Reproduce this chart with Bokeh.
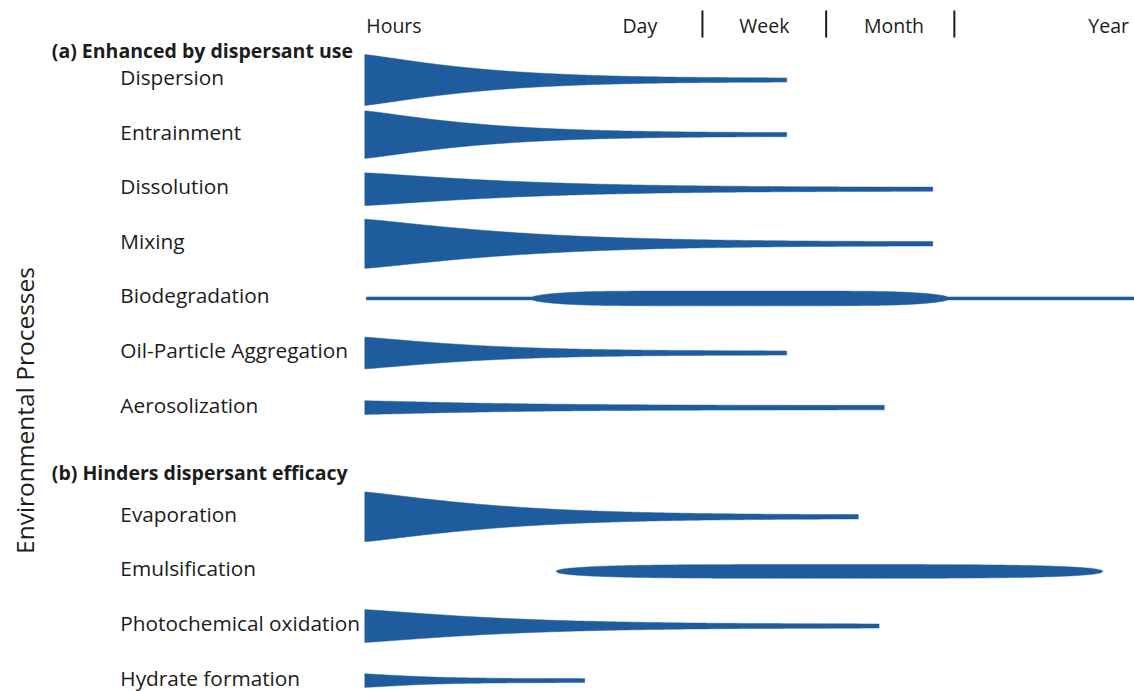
import numpy as np
from bokeh.plotting import figure
from bokeh.models import Range1d, ColumnDataSource
from bokeh.core.properties import value
from bokeh.embed import file_html
from bokeh.resources import INLINE

# ---------------- data ----------------
processes = ["Dispersion", "Entrainment", "Dissolution", "Mixing", "Biodegradation",
             "Oil-Particle Aggregation", "Aerosolization",
             "Evaporation", "Emulsification", "Photochemical oxidation", "Hydrate formation"]
row = [0, 1, 2, 3, 4, 5, 6, 8, 9, 10, 11]
form = ["decay", "decay", "decay", "decay", "bulge", "decay", "decay",
        "decay", "lens", "decay", "decay"]
# relative time position (0 = hours ... ~100 = year)
onset = [0, 0, 0, 0, 0.2, 0, 0, 0, 25.7, 0, 0]
finish = [56.6, 56.6, 76.2, 76.2, 105.0, 56.6, 69.7, 66.2, 99.0, 69.0, 29.5]
peak_from = [None, None, None, None, 22.5, None, None, None, None, None, None]
peak_to = [None, None, None, None, 78.2, None, None, None, None, None, None]
# relative intensity (thickness, fraction of a row)
strength = [0.93, 0.87, 0.60, 0.90, 0.27, 0.58, 0.25, 0.91, 0.25, 0.60, 0.25]
residual = [0.065, 0.065, 0.07, 0.07, 0.055, 0.07, 0.08, 0.07, 0.0, 0.07, 0.07]

groups = ["(a) Enhanced by dispersant use", "(b) Hinders dispersant efficacy"]
group_row = [-0.4844, 7.2418]

time_labels = ["Hours", "Day", "Week", "Month", "Year"]
time_pos = [0.2, 36.9, 53.6, 71.0, 99.8]
time_align = ["left", "center", "center", "center", "center"]
time_breaks = [45.3, 61.9, 79.1]

y_title = "Environmental Processes"

BLUE = "#1f5c9e"
INK = "#1c1c1c"
FONT = "Open Sans"

# ---------------- figure ----------------
p = figure(width=1134, height=691, output_backend="svg", toolbar_location=None,
           x_range=Range1d(-48.88, 103.27), y_range=Range1d(11.2546, -1.4011),
           min_border=0, tools="")
p.axis.visible = False
p.grid.visible = False
p.outline_line_color = None
p.background_fill_color = "white"
p.border_fill_color = "white"

SHIFT = 0.055  # shapes sit slightly below the label centre

xs_all, ys_all = [], []
for i in range(len(processes)):
    yc = row[i] + SHIFT
    x0, x1 = onset[i], finish[i]
    pk, tl = strength[i] / 2.0, residual[i] / 2.0
    if form[i] == "decay":
        x = np.linspace(x0, x1, 300)
        L = 0.29 * (x1 - x0)
        h = tl + (pk - tl) * np.exp(-((x - x0) / L) ** 1.2)
    elif form[i] == "bulge":
        x = np.linspace(x0, x1, 600)
        b0, b1 = peak_from[i], peak_to[i]
        mid, half = (b0 + b1) / 2, (b1 - b0) / 2
        u = np.clip(np.abs(x - mid) / half, 0, 1)
        h = tl + (pk - tl) * (1 - u ** 6) ** 0.75
    else:  # lens with rounded tips
        th = np.linspace(-np.pi / 2, np.pi / 2, 400)
        mid, half = (x0 + x1) / 2, (x1 - x0) / 2
        x = mid + half * np.sin(th)
        u = np.abs(np.sin(th))
        h = pk * np.clip(1 - u ** 4, 0, 1) ** 0.45
    xs_all.append(np.concatenate([x, x[::-1]]).tolist())
    ys_all.append(np.concatenate([yc - h, (yc + h)[::-1]]).tolist())

p.patches(xs=xs_all, ys=ys_all, fill_color=BLUE, line_color=BLUE, line_width=0.5)

# process labels
lab = ColumnDataSource(dict(x=[-32.8] * len(processes), y=[float(r) for r in row], t=processes))
p.text(x="x", y="y", text="t", source=lab, text_font=value(FONT), text_font_size="20.8px",
       text_color=INK, text_baseline="alphabetic", text_align="left")

# group headers
p.text(x=[-42.0] * 2, y=group_row, text=groups, text_font=value(FONT), text_font_size="19.5px",
       text_font_style="bold", text_color=INK, text_baseline="alphabetic", text_align="left")

# time labels
tsrc = ColumnDataSource(dict(x=time_pos, y=[-0.9432] * len(time_pos), t=time_labels, a=time_align))
p.text(x="x", y="y", text="t", text_align="a", source=tsrc, text_font=value(FONT),
       text_font_size="19.5px", text_color=INK, text_baseline="alphabetic")

# separators between time labels
p.segment(x0=time_breaks, x1=time_breaks, y0=[-1.2179] * 3, y1=[-0.7234] * 3,
          line_color=INK, line_width=2)

# vertical title
p.text(x=[-45.66], y=[6.1081], text=[y_title], angle=np.pi / 2, text_font=value(FONT),
       text_font_size="24.5px", text_color=INK, text_baseline="alphabetic", text_align="center")

open("out.html", "w").write(file_html(p, INLINE))
